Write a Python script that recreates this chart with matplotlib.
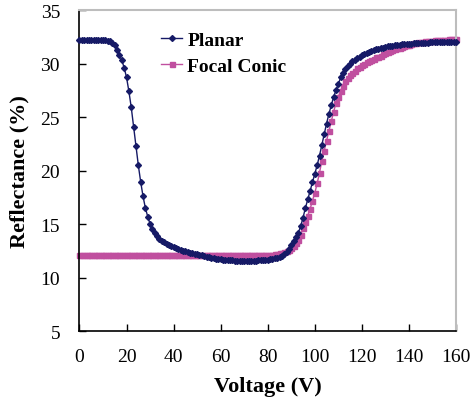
import numpy as np
import matplotlib.pyplot as plt

plt.rcParams['font.family'] = ['Liberation Serif', 'DejaVu Serif']

# applied voltage, 1 V steps
voltage = list(range(0, 161))

planar = [
    32.2, 32.2, 32.2, 32.2, 32.2, 32.2, 32.2, 32.2, 32.2, 32.2,
    32.2, 32.2, 32.15, 32.1, 31.95, 31.7, 31.3, 30.8, 30.3, 29.6,
    28.7, 27.4, 25.9, 24.1, 22.3, 20.5, 18.95, 17.6, 16.5, 15.7,
    15.0, 14.5, 14.15, 13.85, 13.65, 13.45, 13.3, 13.15, 13.05, 12.95,
    12.85, 12.75, 12.68, 12.6, 12.52, 12.45, 12.38, 12.32, 12.27, 12.22,
    12.17, 12.12, 12.07, 12.02, 11.97, 11.92, 11.87, 11.82, 11.78, 11.74,
    11.7, 11.67, 11.65, 11.63, 11.61, 11.6, 11.59, 11.58, 11.57, 11.57,
    11.56, 11.56, 11.57, 11.57, 11.58, 11.59, 11.6, 11.62, 11.64, 11.66,
    11.69, 11.72, 11.76, 11.81, 11.87, 11.95, 12.05, 12.2, 12.4, 12.7,
    13.0, 13.4, 13.8, 14.2, 14.8, 15.6, 16.5, 17.3, 18.1, 18.9,
    19.7, 20.5, 21.4, 22.4, 23.4, 24.4, 25.3, 26.1, 26.9, 27.5,
    28.1, 28.7, 29.1, 29.5, 29.8, 30.0, 30.2, 30.35, 30.5, 30.65,
    30.8, 30.9, 31.0, 31.1, 31.18, 31.25, 31.32, 31.38, 31.44, 31.5,
    31.55, 31.6, 31.64, 31.68, 31.71, 31.74, 31.77, 31.8, 31.82, 31.84,
    31.86, 31.87, 31.89, 31.9, 31.91, 31.93, 31.94, 31.95, 31.96, 31.97,
    31.98, 31.99, 32.0, 32.0, 32.01, 32.02, 32.02, 32.03, 32.03, 32.04,
    32.05,
]

focal_conic = [12.1] * 80 + [
    12.1, 12.12, 12.14, 12.17, 12.21, 12.26, 12.32, 12.4, 12.5, 12.62,
    12.76, 12.92, 13.2, 13.55, 14.0, 14.6, 15.2, 15.8, 16.4, 17.2,
    17.9, 18.8, 19.8, 20.9, 21.85, 22.8, 23.7, 24.6, 25.5, 26.3,
    26.9, 27.45, 27.95, 28.35, 28.65, 28.9, 29.15, 29.35, 29.55, 29.7,
    29.85, 30.0, 30.12, 30.24, 30.36, 30.47, 30.57, 30.66, 30.75, 30.85,
    30.95, 31.05, 31.15, 31.25, 31.35, 31.43, 31.5, 31.58, 31.65, 31.72,
    31.78, 31.84, 31.9, 31.94, 31.98, 32.02, 32.05, 32.08, 32.1, 32.12,
    32.14, 32.16, 32.18, 32.2, 32.21, 32.23, 32.24, 32.25, 32.26, 32.27,
    32.28,
]

navy = '#161a66'
pink = '#c04f9f'

fig = plt.figure(figsize=(4.74, 4.10), dpi=100)
ax = fig.add_axes([0.1677, 0.190, 0.7943, 0.783])

ax.plot(voltage, focal_conic, color=pink, lw=1.0, marker='s', ms=3.6,
        mec=pink, mfc=pink, label='Focal Conic', clip_on=False, zorder=2)
ax.plot(voltage, planar, color=navy, lw=1.0, marker='D', ms=3.0,
        mec=navy, mfc=navy, label='Planar', clip_on=False, zorder=3)

ax.set_xlim(0, 160)
ax.set_ylim(5, 35)
ax.set_xticks(range(0, 161, 20))
ax.set_yticks(range(5, 36, 5))

ax.tick_params(direction='in', length=5, width=1, labelsize=14)
ax.tick_params(axis='x', pad=12)
ax.tick_params(axis='y', pad=14)

for s in ['left', 'bottom']:
    ax.spines[s].set_color('black')
    ax.spines[s].set_linewidth(1.2)
for s in ['top', 'right']:
    ax.spines[s].set_color('#bdbdbd')
    ax.spines[s].set_linewidth(1.5)

ax.set_xlabel('Voltage (V)', fontsize=16, fontweight='bold', labelpad=8)
ax.set_ylabel('Reflectance (%)', fontsize=16, fontweight='bold', labelpad=8)

handles, labels = ax.get_legend_handles_labels()
leg = ax.legend(handles[::-1], labels[::-1], loc='upper left',
                bbox_to_anchor=(0.2165, 0.935), frameon=False,
                prop={'weight': 'bold', 'size': 14}, handlelength=1.1,
                handletextpad=0.25, labelspacing=0.45, borderpad=0,
                borderaxespad=0, numpoints=1)

fig.savefig('out.png', dpi=100)
